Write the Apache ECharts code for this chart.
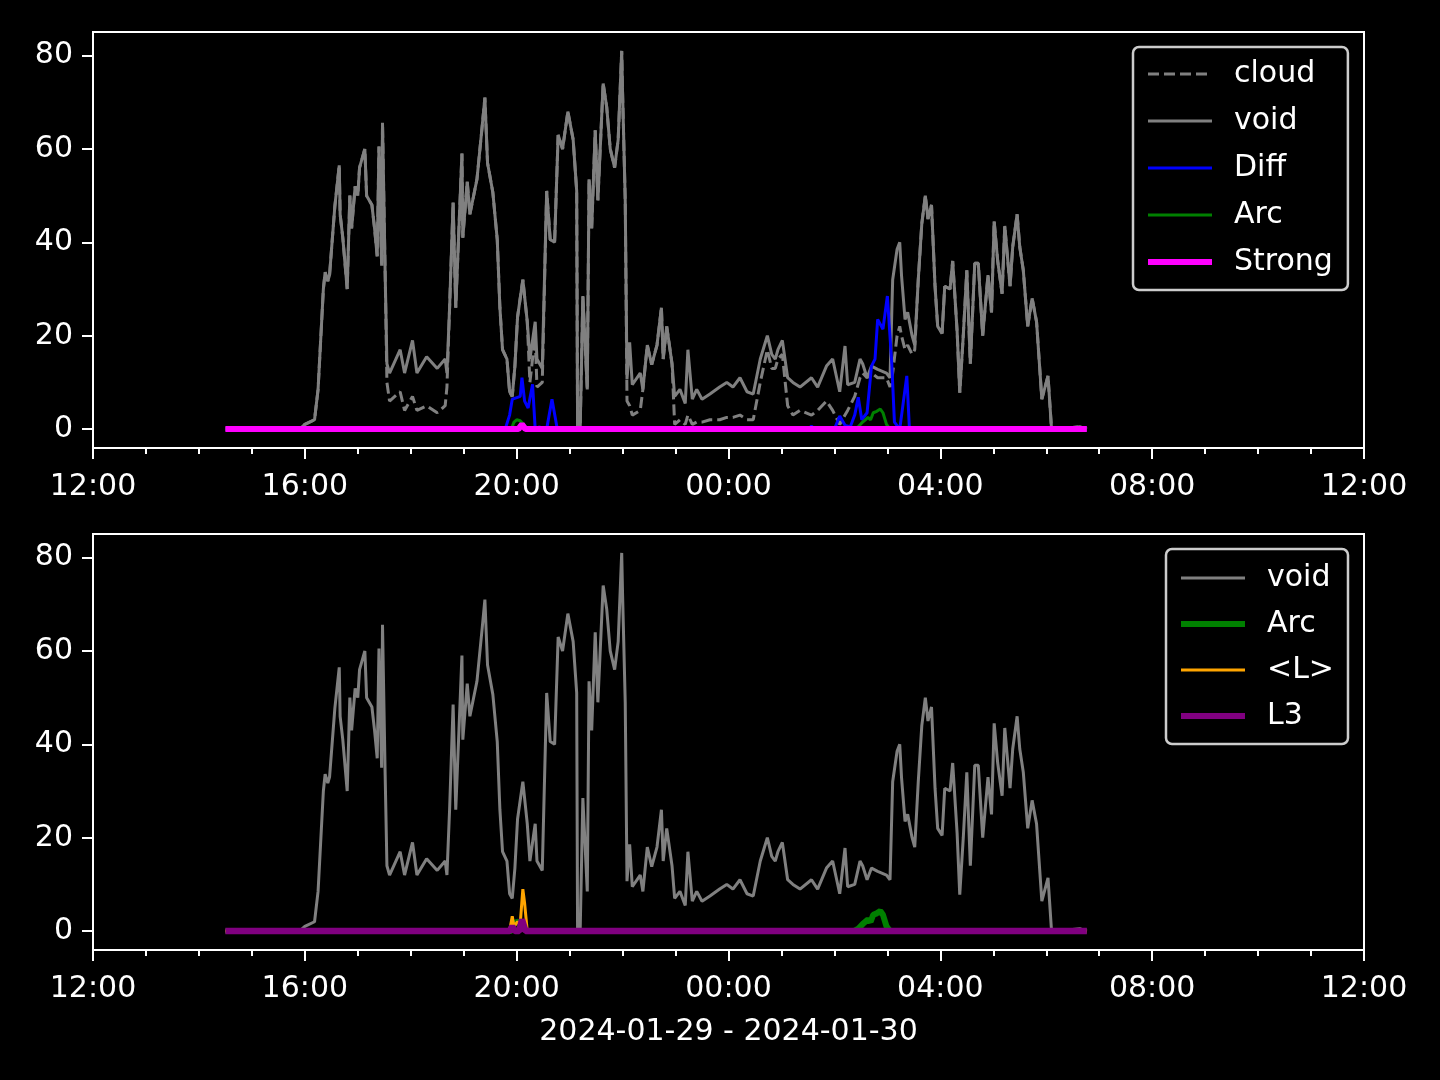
<!DOCTYPE html>
<html>
<head>
<meta charset="utf-8">
<script src="https://cdn.jsdelivr.net/npm/echarts@6/dist/echarts.min.js"></script>
<style>
html,body{margin:0;padding:0;background:#000;}
#chart{width:1440px;height:1080px;}
</style>
</head>
<body>
<div id="chart"></div>
<script>
// ---------------- DATA ----------------
const yTicks = [0, 20, 40, 60, 80];
const xLabel = '2024-01-29 - 2024-01-30';

const voidTimes = ['14:30','15:54','16:00','16:11','16:15','16:21','16:23','16:26','16:28','16:34',
'16:39','16:40','16:43','16:48','16:51','16:53','16:57','17:00','17:02','17:08',
'17:10','17:16','17:19','17:22','17:24','17:27','17:28','17:31','17:33','17:36',
'17:48','17:53','18:02','18:07','18:18','18:30','18:39','18:41','18:44','18:48',
'18:51','18:58','18:59','19:04','19:07','19:15','19:21','19:24','19:27','19:33',
'19:38','19:41','19:44','19:49','19:52','19:55','19:58','20:01','20:07','20:12',
'20:15','20:21','20:23','20:29','20:34','20:38','20:43','20:47','20:52','20:58',
'21:04','21:08','21:09','21:12','21:15','21:20','21:22','21:25','21:29','21:32',
'21:38','21:42','21:46','21:51','21:55','21:59','22:00','22:03','22:05','22:08',
'22:11','22:20','22:23','22:28','22:33','22:39','22:44','22:46','22:50','22:56',
'22:59','23:05','23:11','23:14','23:19','23:24','23:30','23:39','23:50','23:58',
'00:05','00:13','00:21','00:28','00:36','00:44','00:49','00:53','00:56','01:01',
'01:07','01:13','01:21','01:34','01:41','01:51','01:58','02:06','02:12','02:15',
'02:23','02:29','02:32','02:37','02:42','02:49','02:59','03:03','03:06','03:11',
'03:14','03:16','03:20','03:23','03:28','03:31','03:35','03:39','03:43','03:46',
'03:50','03:54','03:57','04:02','04:05','04:11','04:14','04:19','04:22','04:26',
'04:30','04:34','04:39','04:43','04:48','04:54','04:58','05:01','05:05','05:10',
'05:13','05:19','05:22','05:27','05:30','05:34','05:39','05:44','05:49','05:55',
'06:02','06:06','06:27','06:38','06:46'];

const voidValues = [0,0,1,2,8.5,30,33.6,31.7,33,47.7,
56.5,46,41,30,50,43,52,50,56,60,
50,48,43,37,60.5,35,65.6,33.5,14,12,
17,12,19,12,15.5,13,15,12,26,48.5,
26,59,41,53,46,53.5,65,71,57,50.7,
40.6,26,17,15,8,7,13.5,24,32,23,
15,23,15,13,51,40.6,40,63,60,68,
62,51,0.6,0.5,28.5,8.5,53.5,43,64,49,
74,69,60,56,62,81,72,49,10.7,18.6,
9.5,12,8.5,18,13.8,18,26,15,22,14,
7,8.5,5.5,17,6.4,8.5,6.4,7.5,9,10,
9,11,8,7.5,15,20,16,15,17,19,
11,10,9,11,9,13.5,15,8,17.8,9.5,
10,15,14,11,13.5,12.8,12,11,32,38.5,
40,33,23.5,25,20,18,32,44,50,45,
48,30.6,22,20.5,30.6,30,36,21,7.8,20,
34,14,35.5,35.5,20,33,25,44.5,36,29,
43.5,30.6,39,46,39,34,22,28,23,6.4,
11.4,0,0.3,0.5,0];

const cloudValues = [0,0,1,2,8.5,30,33.6,31.7,33,47.7,
56.5,46,41,30,50,43,52,50,56,60,
50,48,43,37,60.5,35,65.6,33.5,10,6,
8,4,7,4,5,3.5,5,9,26,48.5,
26,59,41,53,46,53.5,65,71,57,50.7,
40.6,26,17,15,8,7,13.5,24,32,23,
10,20,9,10,51,40.6,40,63,60,68,
62,51,0.6,0.5,28.5,8.5,53.5,43,64,49,
74,69,60,56,62,81,72,49,6,5,
3,4,8.5,18,13.8,18,26,15,22,14,
1,2,1,3,1,1.5,1.5,2,2,2.5,
2.5,3,2,2,10,17,13,13,15,16,
5,3,4,3,4,6,4,1,3,4,
7,11,12,11,12,11,11,9,12,20,
22,20,17,18,16,17,32,44,50,45,
48,30.6,22,20.5,30.6,30,36,21,7.8,20,
34,14,35.5,35.5,20,33,25,44.5,36,29,
43.5,30.6,39,46,39,34,22,28,23,6.4,
11.4,0,0.3,0.5,0];

const diffTimes = ['14:30','19:47','19:52','19:55','20:01','20:04','20:06','20:09','20:13','20:18',
'20:21','20:26','20:29','20:34','20:40','20:46','01:30','01:34','01:38','02:00',
'02:06','02:12','02:18','02:23','02:27','02:31','02:37','02:42','02:46','02:49',
'02:55','03:00','03:05','03:08','03:14','03:22','03:25','06:46'];
const diffValues = [0,0,3,6.4,6.8,7,11,6,4.5,9.6,
0,0.5,0,0,6.4,0,0,0.6,0,0,
2.8,0.8,0.5,3,6.8,2,3.5,13.5,15,23.5,
21.4,28.5,14,1.5,0,11.4,0,0];

const arcTimes = ['14:30','19:54','19:57','20:00','20:04','20:08','20:11',
'02:22','02:27','02:32','02:35','02:38','02:41','02:44','02:48','02:52','02:55','02:59','03:03','06:46'];
const arcValues = [0,0,1.5,2,1.8,1,0,
0,0.5,1.5,2,2.5,2,3.5,3.8,4.3,3.5,1,0,0];

const strongTimes = ['14:30','20:02','20:06','20:10','06:46'];
const strongValues = [0,0,1,0,0];

const lTimes = ['14:30','19:52','19:55','19:57','20:01','20:04','20:07','20:09','20:12','06:46'];
const lValues = [0,0,3.2,1,2,1.5,9,6,0,0];

const l3Times = ['14:30','19:52','19:55','19:58','20:03','20:06','20:10','06:46'];
const l3Values = [0,0,1,0,0,2.5,0,0];

// ---------------- HELPERS ----------------
function ts(hhmm){
  const [h,m] = hhmm.split(':').map(Number);
  const day = h < 12 ? 30 : 29;
  return Date.UTC(2024,0,day,h,m);
}
function pairs(times, vals){ return times.map((t,i)=>[ts(t), vals[i]]); }
const pad = n => (n<10?'0':'')+n;
const X_MIN = Date.UTC(2024,0,29,12,0);
const X_MAX = Date.UTC(2024,0,30,12,0);
const FONT = 'DejaVu Sans';
const WHITE = '#ffffff';

function xAxis(gi, name){
  return {
    type:'value', gridIndex:gi, min:X_MIN, max:X_MAX, interval:4*3600*1000,
    name: name || '', nameLocation:'middle', nameGap:67,
    nameTextStyle:{color:WHITE, fontSize:30, fontFamily:FONT},
    axisLine:{show:true, onZero:false, lineStyle:{color:WHITE, width:2}},
    axisTick:{show:true, inside:false, length:11, lineStyle:{color:WHITE, width:2}},
    minorTick:{show:true, splitNumber:4, length:6, lineStyle:{color:WHITE, width:2}},
    splitLine:{show:false}, minorSplitLine:{show:false},
    axisLabel:{color:WHITE, fontSize:30, fontFamily:FONT, margin:24, showMinLabel:true, showMaxLabel:true,
      formatter:v=>{const d=new Date(v); return pad(d.getUTCHours())+':'+pad(d.getUTCMinutes());}}
  };
}
function yAxis(gi){
  return {
    type:'value', gridIndex:gi, min:-4.05, max:85.05,
    axisLine:{show:true, onZero:false, lineStyle:{color:WHITE, width:2}},
    axisTick:{show:true, inside:false, length:11, customValues:yTicks, lineStyle:{color:WHITE, width:2}},
    splitLine:{show:false},
    axisLabel:{color:WHITE, fontSize:30, fontFamily:FONT, margin:20, customValues:yTicks}
  };
}
function line(name, times, vals, color, width, gi, extra){
  return Object.assign({
    type:'line', name, xAxisIndex:gi, yAxisIndex:gi, data:pairs(times, vals),
    symbol:'none', showSymbol:false, animation:false, sampling:null,
    lineStyle:{color, width}, itemStyle:{color}
  }, extra||{});
}
const legendCommon = {
  orient:'vertical', backgroundColor:'#000', borderColor:'#cccccc', borderWidth:2.5, borderRadius:6,
  itemWidth:64, itemHeight:14, selectedMode:false,
  itemStyle:{color:'transparent', borderColor:'transparent', borderWidth:0, opacity:0},
  textStyle:{color:WHITE, fontSize:30, fontFamily:FONT, lineHeight:30, padding:[0,0,0,17]}
};

const chart = echarts.init(document.getElementById('chart'), null, {renderer:'canvas'});
chart.setOption({
  backgroundColor:'#000',
  animation:false,
  grid:[
    {left:93, top:32, width:1271, height:416, show:true, borderColor:WHITE, borderWidth:2, backgroundColor:'transparent'},
    {left:93, top:534, width:1271, height:416, show:true, borderColor:WHITE, borderWidth:2, backgroundColor:'transparent'}
  ],
  xAxis:[xAxis(0), xAxis(1, xLabel)],
  yAxis:[yAxis(0), yAxis(1)],
  legend:[
    Object.assign({}, legendCommon, {left:1133, top:47, padding:[12,15,13,12], itemGap:17,
      data:[
        {name:'cloud', lineStyle:{width:3}},
        {name:'void', lineStyle:{width:3}},
        {name:'Diff', lineStyle:{width:3}},
        {name:'Arc', lineStyle:{width:3}},
        {name:'Strong', lineStyle:{width:6}}]}),
    Object.assign({}, legendCommon, {left:1166, top:549, padding:[14,14,13,12], itemGap:16,
      data:[
        {name:'void', lineStyle:{width:3}},
        {name:'Arc', lineStyle:{width:6}},
        {name:'<L>', lineStyle:{width:3}},
        {name:'L3', lineStyle:{width:6}}]})
  ],
  series:[
    line('cloud', voidTimes, cloudValues, '#808080', 3, 0, {lineStyle:{color:'#808080', width:3, type:[11,5]}}),
    line('void', voidTimes, voidValues, '#808080', 3, 0),
    line('Diff', diffTimes, diffValues, '#0000ff', 3, 0),
    line('Arc', arcTimes, arcValues, '#008000', 3, 0),
    line('Strong', strongTimes, strongValues, '#ff00ff', 6, 0),
    line('void', voidTimes, voidValues, '#808080', 3, 1),
    line('Arc', arcTimes, arcValues, '#008000', 6, 1),
    line('<L>', lTimes, lValues, '#ffa500', 3, 1),
    line('L3', l3Times, l3Values, '#800080', 6.5, 1)
  ]
});
</script>
</body>
</html>
